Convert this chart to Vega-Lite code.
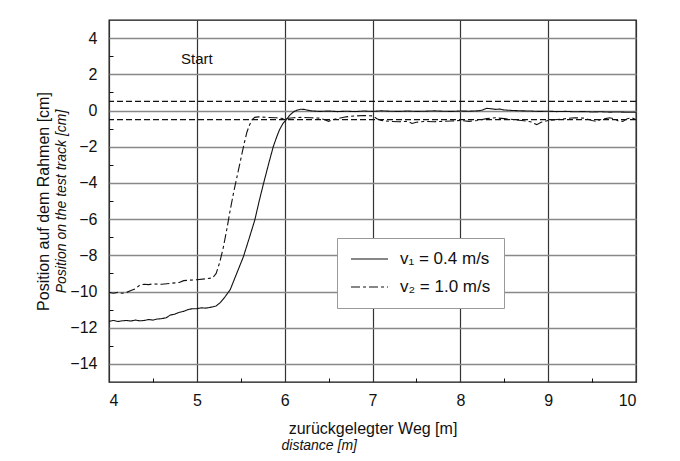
{
  "$schema": "https://vega.github.io/schema/vega-lite/v6.json",
  "width": 527,
  "height": 362,
  "autosize": {"type": "none"},
  "padding": {"left": 109, "top": 20, "right": 44, "bottom": 79},
  "background": "white",
  "config": {
    "font": "Liberation Sans",
    "view": {"stroke": "#111", "strokeWidth": 1.3},
    "axis": {"labelColor": "#111", "titleColor": "#111", "titleFontWeight": "normal"}
  },
  "datasets": {
    "curves": [
      {"x": 4.00, "y": -11.65, "s": "v₁ = 0.4 m/s"}, {"x": 4.05, "y": -11.60, "s": "v₁ = 0.4 m/s"}, {"x": 4.10, "y": -11.66, "s": "v₁ = 0.4 m/s"},
      {"x": 4.15, "y": -11.62, "s": "v₁ = 0.4 m/s"}, {"x": 4.20, "y": -11.60, "s": "v₁ = 0.4 m/s"}, {"x": 4.25, "y": -11.63, "s": "v₁ = 0.4 m/s"},
      {"x": 4.30, "y": -11.58, "s": "v₁ = 0.4 m/s"}, {"x": 4.35, "y": -11.62, "s": "v₁ = 0.4 m/s"}, {"x": 4.40, "y": -11.60, "s": "v₁ = 0.4 m/s"},
      {"x": 4.45, "y": -11.55, "s": "v₁ = 0.4 m/s"}, {"x": 4.50, "y": -11.58, "s": "v₁ = 0.4 m/s"}, {"x": 4.55, "y": -11.52, "s": "v₁ = 0.4 m/s"},
      {"x": 4.60, "y": -11.50, "s": "v₁ = 0.4 m/s"}, {"x": 4.65, "y": -11.45, "s": "v₁ = 0.4 m/s"}, {"x": 4.70, "y": -11.30, "s": "v₁ = 0.4 m/s"},
      {"x": 4.75, "y": -11.25, "s": "v₁ = 0.4 m/s"}, {"x": 4.80, "y": -11.15, "s": "v₁ = 0.4 m/s"}, {"x": 4.85, "y": -11.10, "s": "v₁ = 0.4 m/s"},
      {"x": 4.90, "y": -11.00, "s": "v₁ = 0.4 m/s"}, {"x": 4.95, "y": -10.95, "s": "v₁ = 0.4 m/s"}, {"x": 5.00, "y": -10.95, "s": "v₁ = 0.4 m/s"},
      {"x": 5.05, "y": -10.90, "s": "v₁ = 0.4 m/s"}, {"x": 5.10, "y": -10.92, "s": "v₁ = 0.4 m/s"}, {"x": 5.15, "y": -10.88, "s": "v₁ = 0.4 m/s"},
      {"x": 5.22, "y": -10.80, "s": "v₁ = 0.4 m/s"}, {"x": 5.27, "y": -10.60, "s": "v₁ = 0.4 m/s"}, {"x": 5.32, "y": -10.30, "s": "v₁ = 0.4 m/s"},
      {"x": 5.38, "y": -9.90, "s": "v₁ = 0.4 m/s"}, {"x": 5.45, "y": -9.05, "s": "v₁ = 0.4 m/s"}, {"x": 5.53, "y": -8.08, "s": "v₁ = 0.4 m/s"},
      {"x": 5.60, "y": -7.00, "s": "v₁ = 0.4 m/s"}, {"x": 5.66, "y": -6.05, "s": "v₁ = 0.4 m/s"}, {"x": 5.71, "y": -5.00, "s": "v₁ = 0.4 m/s"},
      {"x": 5.76, "y": -4.02, "s": "v₁ = 0.4 m/s"}, {"x": 5.82, "y": -2.90, "s": "v₁ = 0.4 m/s"}, {"x": 5.87, "y": -2.00, "s": "v₁ = 0.4 m/s"},
      {"x": 5.91, "y": -1.45, "s": "v₁ = 0.4 m/s"}, {"x": 5.94, "y": -1.08, "s": "v₁ = 0.4 m/s"}, {"x": 5.98, "y": -0.72, "s": "v₁ = 0.4 m/s"},
      {"x": 6.02, "y": -0.50, "s": "v₁ = 0.4 m/s"}, {"x": 6.06, "y": -0.25, "s": "v₁ = 0.4 m/s"}, {"x": 6.10, "y": -0.08, "s": "v₁ = 0.4 m/s"},
      {"x": 6.14, "y": 0.02, "s": "v₁ = 0.4 m/s"}, {"x": 6.18, "y": 0.07, "s": "v₁ = 0.4 m/s"}, {"x": 6.22, "y": 0.06, "s": "v₁ = 0.4 m/s"},
      {"x": 6.26, "y": 0.02, "s": "v₁ = 0.4 m/s"}, {"x": 6.30, "y": -0.02, "s": "v₁ = 0.4 m/s"}, {"x": 6.40, "y": -0.05, "s": "v₁ = 0.4 m/s"},
      {"x": 6.50, "y": -0.03, "s": "v₁ = 0.4 m/s"}, {"x": 6.60, "y": -0.06, "s": "v₁ = 0.4 m/s"}, {"x": 6.70, "y": -0.04, "s": "v₁ = 0.4 m/s"},
      {"x": 6.80, "y": -0.06, "s": "v₁ = 0.4 m/s"}, {"x": 6.90, "y": -0.03, "s": "v₁ = 0.4 m/s"}, {"x": 7.00, "y": -0.05, "s": "v₁ = 0.4 m/s"},
      {"x": 7.10, "y": -0.02, "s": "v₁ = 0.4 m/s"}, {"x": 7.20, "y": -0.04, "s": "v₁ = 0.4 m/s"}, {"x": 7.30, "y": -0.05, "s": "v₁ = 0.4 m/s"},
      {"x": 7.40, "y": -0.03, "s": "v₁ = 0.4 m/s"}, {"x": 7.50, "y": -0.05, "s": "v₁ = 0.4 m/s"}, {"x": 7.60, "y": -0.04, "s": "v₁ = 0.4 m/s"},
      {"x": 7.70, "y": -0.02, "s": "v₁ = 0.4 m/s"}, {"x": 7.80, "y": -0.04, "s": "v₁ = 0.4 m/s"}, {"x": 7.90, "y": -0.05, "s": "v₁ = 0.4 m/s"},
      {"x": 8.00, "y": -0.03, "s": "v₁ = 0.4 m/s"}, {"x": 8.10, "y": -0.04, "s": "v₁ = 0.4 m/s"}, {"x": 8.20, "y": -0.02, "s": "v₁ = 0.4 m/s"},
      {"x": 8.25, "y": 0.02, "s": "v₁ = 0.4 m/s"}, {"x": 8.30, "y": 0.12, "s": "v₁ = 0.4 m/s"}, {"x": 8.35, "y": 0.10, "s": "v₁ = 0.4 m/s"},
      {"x": 8.40, "y": 0.06, "s": "v₁ = 0.4 m/s"}, {"x": 8.45, "y": 0.08, "s": "v₁ = 0.4 m/s"}, {"x": 8.50, "y": 0.03, "s": "v₁ = 0.4 m/s"},
      {"x": 8.60, "y": 0.00, "s": "v₁ = 0.4 m/s"}, {"x": 8.70, "y": -0.02, "s": "v₁ = 0.4 m/s"}, {"x": 8.80, "y": -0.03, "s": "v₁ = 0.4 m/s"},
      {"x": 8.90, "y": -0.05, "s": "v₁ = 0.4 m/s"}, {"x": 9.00, "y": -0.04, "s": "v₁ = 0.4 m/s"}, {"x": 9.10, "y": -0.06, "s": "v₁ = 0.4 m/s"},
      {"x": 9.20, "y": -0.05, "s": "v₁ = 0.4 m/s"}, {"x": 9.30, "y": -0.07, "s": "v₁ = 0.4 m/s"}, {"x": 9.40, "y": -0.06, "s": "v₁ = 0.4 m/s"},
      {"x": 9.50, "y": -0.08, "s": "v₁ = 0.4 m/s"}, {"x": 9.60, "y": -0.07, "s": "v₁ = 0.4 m/s"}, {"x": 9.70, "y": -0.09, "s": "v₁ = 0.4 m/s"},
      {"x": 9.80, "y": -0.08, "s": "v₁ = 0.4 m/s"}, {"x": 9.90, "y": -0.10, "s": "v₁ = 0.4 m/s"}, {"x": 10.00, "y": -0.10, "s": "v₁ = 0.4 m/s"},

      {"x": 4.00, "y": -10.05, "s": "v₂ = 1.0 m/s"}, {"x": 4.05, "y": -10.10, "s": "v₂ = 1.0 m/s"}, {"x": 4.10, "y": -10.05, "s": "v₂ = 1.0 m/s"},
      {"x": 4.15, "y": -10.10, "s": "v₂ = 1.0 m/s"}, {"x": 4.20, "y": -10.05, "s": "v₂ = 1.0 m/s"}, {"x": 4.25, "y": -9.95, "s": "v₂ = 1.0 m/s"},
      {"x": 4.30, "y": -9.85, "s": "v₂ = 1.0 m/s"}, {"x": 4.35, "y": -9.65, "s": "v₂ = 1.0 m/s"}, {"x": 4.40, "y": -9.60, "s": "v₂ = 1.0 m/s"},
      {"x": 4.45, "y": -9.62, "s": "v₂ = 1.0 m/s"}, {"x": 4.50, "y": -9.58, "s": "v₂ = 1.0 m/s"}, {"x": 4.60, "y": -9.60, "s": "v₂ = 1.0 m/s"},
      {"x": 4.70, "y": -9.55, "s": "v₂ = 1.0 m/s"}, {"x": 4.80, "y": -9.50, "s": "v₂ = 1.0 m/s"}, {"x": 4.85, "y": -9.40, "s": "v₂ = 1.0 m/s"},
      {"x": 4.90, "y": -9.38, "s": "v₂ = 1.0 m/s"}, {"x": 5.00, "y": -9.35, "s": "v₂ = 1.0 m/s"}, {"x": 5.10, "y": -9.30, "s": "v₂ = 1.0 m/s"},
      {"x": 5.18, "y": -9.25, "s": "v₂ = 1.0 m/s"}, {"x": 5.22, "y": -9.00, "s": "v₂ = 1.0 m/s"}, {"x": 5.26, "y": -8.40, "s": "v₂ = 1.0 m/s"},
      {"x": 5.30, "y": -7.60, "s": "v₂ = 1.0 m/s"}, {"x": 5.34, "y": -6.60, "s": "v₂ = 1.0 m/s"}, {"x": 5.38, "y": -5.50, "s": "v₂ = 1.0 m/s"},
      {"x": 5.42, "y": -4.50, "s": "v₂ = 1.0 m/s"}, {"x": 5.46, "y": -3.60, "s": "v₂ = 1.0 m/s"}, {"x": 5.50, "y": -2.70, "s": "v₂ = 1.0 m/s"},
      {"x": 5.54, "y": -1.80, "s": "v₂ = 1.0 m/s"}, {"x": 5.57, "y": -1.20, "s": "v₂ = 1.0 m/s"}, {"x": 5.60, "y": -0.80, "s": "v₂ = 1.0 m/s"},
      {"x": 5.63, "y": -0.50, "s": "v₂ = 1.0 m/s"}, {"x": 5.66, "y": -0.38, "s": "v₂ = 1.0 m/s"}, {"x": 5.70, "y": -0.35, "s": "v₂ = 1.0 m/s"},
      {"x": 5.80, "y": -0.38, "s": "v₂ = 1.0 m/s"}, {"x": 5.90, "y": -0.40, "s": "v₂ = 1.0 m/s"}, {"x": 6.00, "y": -0.45, "s": "v₂ = 1.0 m/s"},
      {"x": 6.10, "y": -0.40, "s": "v₂ = 1.0 m/s"}, {"x": 6.20, "y": -0.38, "s": "v₂ = 1.0 m/s"}, {"x": 6.30, "y": -0.40, "s": "v₂ = 1.0 m/s"},
      {"x": 6.40, "y": -0.42, "s": "v₂ = 1.0 m/s"}, {"x": 6.45, "y": -0.50, "s": "v₂ = 1.0 m/s"}, {"x": 6.50, "y": -0.60, "s": "v₂ = 1.0 m/s"},
      {"x": 6.55, "y": -0.50, "s": "v₂ = 1.0 m/s"}, {"x": 6.60, "y": -0.45, "s": "v₂ = 1.0 m/s"}, {"x": 6.70, "y": -0.35, "s": "v₂ = 1.0 m/s"},
      {"x": 6.80, "y": -0.30, "s": "v₂ = 1.0 m/s"}, {"x": 6.90, "y": -0.28, "s": "v₂ = 1.0 m/s"}, {"x": 7.00, "y": -0.30, "s": "v₂ = 1.0 m/s"},
      {"x": 7.05, "y": -0.45, "s": "v₂ = 1.0 m/s"}, {"x": 7.10, "y": -0.55, "s": "v₂ = 1.0 m/s"}, {"x": 7.20, "y": -0.60, "s": "v₂ = 1.0 m/s"},
      {"x": 7.30, "y": -0.62, "s": "v₂ = 1.0 m/s"}, {"x": 7.40, "y": -0.60, "s": "v₂ = 1.0 m/s"}, {"x": 7.45, "y": -0.72, "s": "v₂ = 1.0 m/s"},
      {"x": 7.50, "y": -0.65, "s": "v₂ = 1.0 m/s"}, {"x": 7.60, "y": -0.60, "s": "v₂ = 1.0 m/s"}, {"x": 7.70, "y": -0.62, "s": "v₂ = 1.0 m/s"},
      {"x": 7.80, "y": -0.60, "s": "v₂ = 1.0 m/s"}, {"x": 7.90, "y": -0.58, "s": "v₂ = 1.0 m/s"}, {"x": 8.00, "y": -0.55, "s": "v₂ = 1.0 m/s"},
      {"x": 8.10, "y": -0.60, "s": "v₂ = 1.0 m/s"}, {"x": 8.20, "y": -0.55, "s": "v₂ = 1.0 m/s"}, {"x": 8.30, "y": -0.45, "s": "v₂ = 1.0 m/s"},
      {"x": 8.40, "y": -0.40, "s": "v₂ = 1.0 m/s"}, {"x": 8.50, "y": -0.45, "s": "v₂ = 1.0 m/s"}, {"x": 8.60, "y": -0.50, "s": "v₂ = 1.0 m/s"},
      {"x": 8.70, "y": -0.55, "s": "v₂ = 1.0 m/s"}, {"x": 8.80, "y": -0.62, "s": "v₂ = 1.0 m/s"}, {"x": 8.87, "y": -0.78, "s": "v₂ = 1.0 m/s"},
      {"x": 8.92, "y": -0.65, "s": "v₂ = 1.0 m/s"}, {"x": 9.00, "y": -0.55, "s": "v₂ = 1.0 m/s"}, {"x": 9.10, "y": -0.50, "s": "v₂ = 1.0 m/s"},
      {"x": 9.20, "y": -0.45, "s": "v₂ = 1.0 m/s"}, {"x": 9.30, "y": -0.40, "s": "v₂ = 1.0 m/s"}, {"x": 9.40, "y": -0.42, "s": "v₂ = 1.0 m/s"},
      {"x": 9.50, "y": -0.55, "s": "v₂ = 1.0 m/s"}, {"x": 9.55, "y": -0.60, "s": "v₂ = 1.0 m/s"}, {"x": 9.60, "y": -0.50, "s": "v₂ = 1.0 m/s"},
      {"x": 9.70, "y": -0.40, "s": "v₂ = 1.0 m/s"}, {"x": 9.75, "y": -0.45, "s": "v₂ = 1.0 m/s"}, {"x": 9.80, "y": -0.58, "s": "v₂ = 1.0 m/s"},
      {"x": 9.85, "y": -0.60, "s": "v₂ = 1.0 m/s"}, {"x": 9.90, "y": -0.45, "s": "v₂ = 1.0 m/s"}, {"x": 9.95, "y": -0.40, "s": "v₂ = 1.0 m/s"},
      {"x": 10.00, "y": -0.50, "s": "v₂ = 1.0 m/s"}
    ],
    "refs": [{"y": 0.5}, {"y": -0.5}],
    "notes": [{"x": 5.0, "y": 2.85, "label": "Start"}]
  },
  "resolve": {"axis": {"x": "independent", "y": "independent"}},
  "layer": [
    {
      "data": {"name": "curves"},
      "mark": {"type": "line", "color": "#111", "strokeWidth": 1.1, "clip": true},
      "encoding": {
        "x": {
          "field": "x", "type": "quantitative",
          "scale": {"domain": [4, 10], "nice": false, "zero": false},
          "axis": {
            "orient": "bottom", "values": [4, 5, 6, 7, 8, 9, 10],
            "title": "zurückgelegter Weg [m]", "titleFontSize": 16, "titlePadding": 12,
            "labelFontSize": 16, "labelPadding": 10, "ticks": false, "domain": false,
            "grid": true, "gridColor": "#333", "gridWidth": 1.2
          }
        },
        "y": {
          "field": "y", "type": "quantitative",
          "scale": {"domain": [-15, 5], "nice": false, "zero": false},
          "axis": {
            "orient": "left", "values": [-14, -12, -10, -8, -6, -4, -2, 0, 2, 4],
            "title": "Position auf dem Rahmen [cm]", "titleFontSize": 16, "titlePadding": 18,
            "labelFontSize": 16, "labelPadding": 12, "ticks": false, "domain": false,
            "grid": true, "gridColor": "#888", "gridWidth": 1.6
          }
        },
        "strokeDash": {
          "field": "s", "type": "nominal",
          "scale": {"domain": ["v₁ = 0.4 m/s", "v₂ = 1.0 m/s"], "range": [[1, 0], [9, 3, 3, 3]]},
          "legend": {
            "orient": "none", "legendX": 228, "legendY": 218, "title": null,
            "padding": 13, "strokeColor": "#999", "fillColor": "white",
            "symbolType": "stroke", "symbolSize": 1369, "symbolStrokeWidth": 1.2,
            "symbolStrokeColor": "#111", "labelFontSize": 17, "labelColor": "#111",
            "labelOffset": 11, "rowPadding": 11, "clipHeight": 16
          }
        }
      }
    },
    {
      "data": {"name": "refs"},
      "mark": {"type": "rule", "color": "#111", "strokeWidth": 1.3, "strokeDash": [6, 3]},
      "encoding": {"y": {"field": "y", "type": "quantitative", "axis": null}}
    },
    {
      "data": {"name": "notes"},
      "mark": {"type": "text", "fontSize": 15, "color": "#111"},
      "encoding": {
        "text": {"field": "label"},
        "x": {
          "field": "x", "type": "quantitative",
          "axis": {
            "orient": "bottom", "values": [4.5, 5.5, 6.5, 7.5, 8.5, 9.5],
            "labels": false, "domain": false, "grid": false,
            "ticks": true, "tickSize": -4, "tickColor": "#111", "tickWidth": 1,
            "title": "distance  [m]", "titleFontSize": 14, "titleFontStyle": "italic",
            "titlePadding": 56, "titleAlign": "left", "titleX": 172
          }
        },
        "y": {
          "field": "y", "type": "quantitative",
          "axis": {
            "orient": "left", "values": [-13, -11, -9, -7, -5, -3, -1, 1, 3],
            "labels": false, "domain": false, "grid": false,
            "ticks": true, "tickSize": -4, "tickColor": "#111", "tickWidth": 1,
            "title": "Position on the test track [cm]", "titleFontSize": 14, "titleFontStyle": "italic",
            "titlePadding": 40
          }
        }
      }
    }
  ]
}
